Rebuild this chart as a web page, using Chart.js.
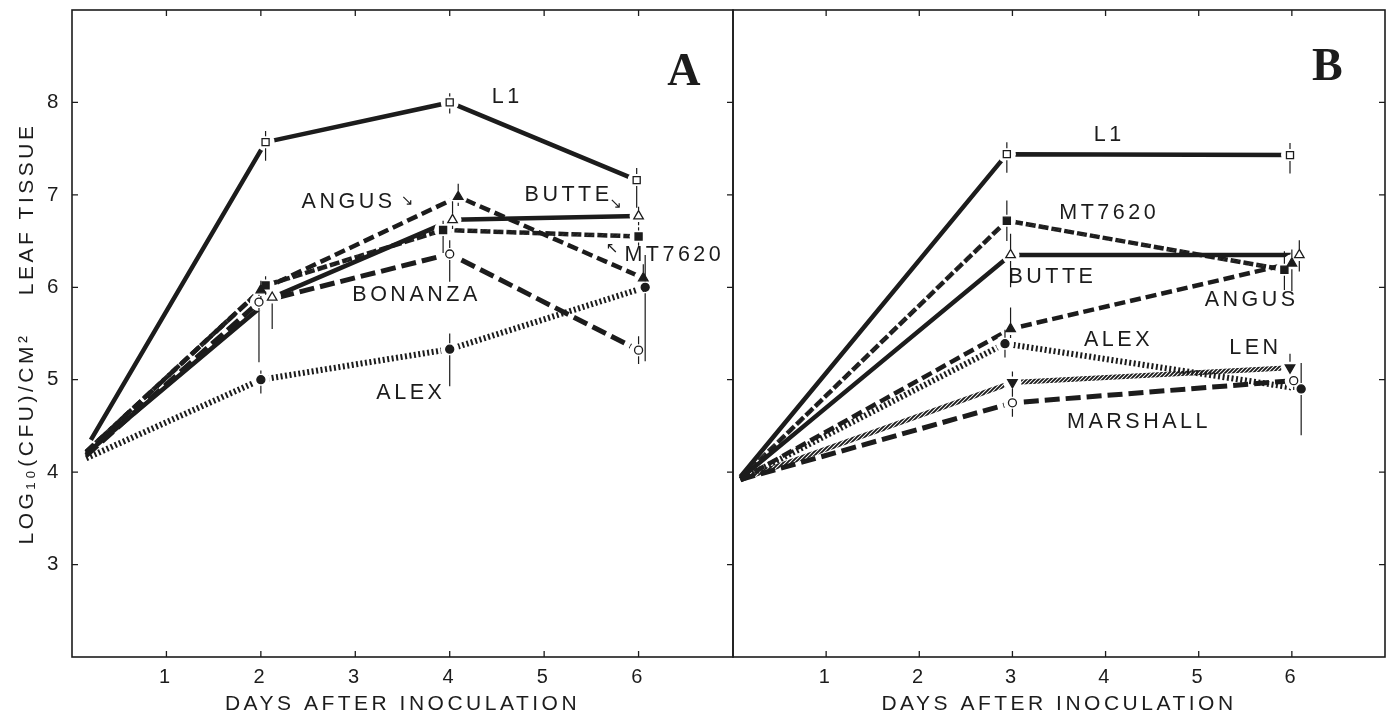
<!DOCTYPE html>
<html>
<head>
<meta charset="utf-8">
<script src="https://cdn.jsdelivr.net/npm/chart.js@4.4.0/dist/chart.umd.min.js"></script>
<style>
  html, body { margin: 0; padding: 0; background: #fff; }
  body { width: 1396px; height: 715px; position: relative; overflow: hidden; }
  #wrapA { position: absolute; left: 0; top: 0; width: 740px; height: 715px; }
  #wrapB { position: absolute; left: 726px; top: 0; width: 670px; height: 715px; }
</style>
</head>
<body>
<div id="wrapA"><canvas id="chartA"></canvas></div>
<div id="wrapB"><canvas id="chartB"></canvas></div>
<script>
// tick values on both panels
const dayTicks = [1, 2, 3, 4, 5, 6];
const logTicks = [3, 4, 5, 6, 7, 8];

// Panel A: days as plotted, log10(CFU)/cm2, error bar below / above
const cultivarsA = ["L1", "ANGUS", "BUTTE", "MT7620", "BONANZA", "ALEX"];
const daysA = [
  [0.2, 2.05, 4.0, 5.98],
  [0.15, 2.0, 4.09, 6.05],
  [0.15, 2.12, 4.03, 6.0],
  [0.15, 2.05, 3.93, 6.0],
  [0.15, 1.98, 4.0, 6.0],
  [0.15, 2.0, 4.0, 6.07]
];
const logA = [
  [4.35, 7.57, 8.0, 7.16],
  [4.22, 5.97, 6.98, 6.1],
  [4.2, 5.89, 6.73, 6.77],
  [4.22, 6.02, 6.62, 6.55],
  [4.18, 5.84, 6.36, 5.32],
  [4.15, 5.0, 5.33, 6.0]
];
const errLowA = [
  [0, 0.2, 0.12, 0.3],
  [0, 0.1, 0.1, 0.15],
  [0, 0.34, 0.1, 0.1],
  [0, 0.1, 0.25, 0.1],
  [0, 0.65, 0.3, 0.15],
  [0, 0.15, 0.4, 0.8]
];
const errHighA = [
  [0, 0.12, 0.1, 0.13],
  [0, 0.1, 0.14, 0.15],
  [0, 0.05, 0.2, 0.1],
  [0, 0.1, 0.1, 0.1],
  [0, 0.08, 0.15, 0.15],
  [0, 0.1, 0.17, 0.35]
];

// Panel B
const cultivarsB = ["L1", "MT7620", "BUTTE", "ANGUS", "ALEX", "LEN", "MARSHALL"];
const daysB = [
  [0.08, 2.94, 5.98],
  [0.08, 2.94, 5.92],
  [0.08, 2.98, 6.08],
  [0.08, 2.98, 6.0],
  [0.08, 2.92, 6.1],
  [0.08, 3.0, 5.98],
  [0.08, 3.0, 6.02]
];
const logB = [
  [3.95, 7.44, 7.43],
  [3.93, 6.72, 6.19],
  [3.93, 6.35, 6.35],
  [3.92, 5.55, 6.26],
  [3.92, 5.39, 4.9],
  [3.92, 4.97, 5.13],
  [3.92, 4.75, 4.99]
];
const errLowB = [
  [0, 0.2, 0.2],
  [0, 0.22, 0.22],
  [0, 0.35, 0.18],
  [0, 0.1, 0.3],
  [0, 0.15, 0.5],
  [0, 0.05, 0.05],
  [0, 0.15, 0.1]
];
const errHighB = [
  [0, 0.13, 0.13],
  [0, 0.22, 0.2],
  [0, 0.23, 0.16],
  [0, 0.23, 0.15],
  [0, 0.15, 0.28],
  [0, 0.12, 0.15],
  [0, 0.15, 0.05]
];

// text on the plots, placed in data units
const notesA = [
  { text: "L1", x: 4.59, y: 8.06 },
  { text: "ANGUS", x: 2.91, y: 6.92 },
  { text: "BUTTE", x: 5.24, y: 7.0 },
  { text: "MT7620", x: 6.36, y: 6.35 },
  { text: "BONANZA", x: 3.63, y: 5.92 },
  { text: "ALEX", x: 3.57, y: 4.86 }
];
const arrowsA = [
  { text: "↘", x: 3.55, y: 6.94 },
  { text: "↘", x: 5.76, y: 6.9 },
  { text: "↖", x: 5.72, y: 6.42 }
];
const notesB = [
  { text: "L1", x: 4.02, y: 7.65 },
  { text: "MT7620", x: 4.02, y: 6.8 },
  { text: "BUTTE", x: 3.41, y: 6.11 },
  { text: "ALEX", x: 4.12, y: 5.43 },
  { text: "ANGUS", x: 5.55, y: 5.86 },
  { text: "LEN", x: 5.59, y: 5.34 },
  { text: "MARSHALL", x: 4.34, y: 4.54 }
];

const ink = "#1c1c1c";
const sans = "'Liberation Sans', 'DejaVu Sans', sans-serif";

// diagonal hatch used as a stroke colour
function hatch(ctx, period, thick) {
  const c = document.createElement("canvas");
  c.width = period;
  c.height = period;
  const g = c.getContext("2d");
  g.strokeStyle = ink;
  g.lineWidth = thick;
  g.beginPath();
  for (let k = -1; k <= 3; k++) {
    g.moveTo(-period, (k + 1) * period);
    g.lineTo((k + 1) * period, -period);
  }
  g.stroke();
  return ctx.createPattern(c, "repeat");
}

const looks = {
  L1: { dash: [], width: 4.5, marker: "rect", size: 5, fill: false },
  BUTTE: { dash: [], width: 4.5, marker: "triangle", size: 5.5, fill: false },
  ANGUS: { dash: [11, 5], width: 4.5, marker: "triangle", size: 5.5, fill: true },
  BONANZA: { dash: [15, 6], width: 5, marker: "circle", size: 4, fill: false },
  MARSHALL: { dash: [15, 6], width: 5, marker: "circle", size: 4, fill: false },
  MT7620: { dash: [10, 3], width: 4.5, hatch: [5, 3.4], marker: "rect", size: 5, fill: true },
  ALEX: { dash: [2, 2.5], width: 6, marker: "circle", size: 4, fill: true },
  LEN: { dash: [], width: 5, hatch: [4, 1.9], marker: "triangle", size: 5.5, fill: true, rot: 180 }
};

function buildDatasets(ctx, names, days, vals) {
  const lines = [], marks = [];
  names.forEach((name, i) => {
    const lk = looks[name];
    const pts = days[i].map((d, j) => ({ x: d, y: vals[i][j] }));
    lines.push({
      label: name,
      data: pts,
      showLine: true,
      borderColor: lk.hatch ? hatch(ctx, lk.hatch[0], lk.hatch[1]) : ink,
      borderWidth: lk.width,
      borderDash: lk.dash,
      borderCapStyle: "butt",
      pointRadius: 0
    });
    marks.push({
      label: name + " points",
      data: pts,
      showLine: false,
      pointStyle: lk.marker,
      pointRotation: lk.rot || 0,
      pointRadius: pts.map((p, j) => (j === 0 ? 0 : lk.size)),
      pointBackgroundColor: lk.fill ? ink : "#fff",
      pointBorderColor: ink,
      pointBorderWidth: 1.3
    });
  });
  return lines.concat(marks);
}

function panelPlugin(nLines, days, vals, lo, hi, notes, arrows, letter, leftTicks) {
  return {
    id: "panel",
    beforeDraw(chart) {
      chart.ctx.letterSpacing = "3.5px";
    },
    // markers are held back and drawn after all the lines
    beforeDatasetDraw(chart, args) {
      if (args.index >= nLines) return false;
    },
    afterDatasetsDraw(chart) {
      const { ctx, chartArea: a } = chart;
      const x = chart.scales.x, y = chart.scales.y;
      ctx.save();
      ctx.letterSpacing = "0px";
      // white gap round each marker, as in the print
      ctx.fillStyle = "#fff";
      for (let k = nLines; k < chart.data.datasets.length; k++) {
        chart.getDatasetMeta(k).data.forEach((pt, j) => {
          if (j === 0) return;
          ctx.beginPath();
          ctx.arc(pt.x, pt.y, 9, 0, Math.PI * 2);
          ctx.fill();
        });
      }
      for (let k = nLines; k < chart.data.datasets.length; k++) {
        chart.getDatasetMeta(k).data.forEach(pt => pt.draw(ctx, a));
      }
      // error bars, with a gap round the marker
      ctx.strokeStyle = ink;
      ctx.lineWidth = 1.2;
      ctx.beginPath();
      days.forEach((row, i) => {
        row.forEach((d, j) => {
          if (j === 0) return;
          const px = x.getPixelForValue(d);
          const py = y.getPixelForValue(vals[i][j]);
          const top = y.getPixelForValue(vals[i][j] + hi[i][j]);
          const bot = y.getPixelForValue(vals[i][j] - lo[i][j]);
          if (py - top > 7) { ctx.moveTo(px, top); ctx.lineTo(px, py - 6); }
          if (bot - py > 7) { ctx.moveTo(px, py + 6); ctx.lineTo(px, bot); }
        });
      });
      ctx.stroke();
      ctx.restore();
    },
    afterDraw(chart) {
      const { ctx, chartArea: a } = chart;
      const x = chart.scales.x, y = chart.scales.y;
      ctx.save();
      ctx.letterSpacing = "0px";
      ctx.strokeStyle = ink;
      // frame and inward ticks
      ctx.lineWidth = 1.6;
      ctx.strokeRect(a.left, a.top, a.right - a.left, a.bottom - a.top);
      ctx.lineWidth = 1.3;
      ctx.beginPath();
      dayTicks.forEach(v => {
        const px = x.getPixelForValue(v);
        ctx.moveTo(px, a.bottom); ctx.lineTo(px, a.bottom - 6);
        ctx.moveTo(px, a.top); ctx.lineTo(px, a.top + 6);
      });
      logTicks.forEach(v => {
        const py = y.getPixelForValue(v);
        if (leftTicks) { ctx.moveTo(a.left, py); ctx.lineTo(a.left + 6, py); }
        ctx.moveTo(a.right, py); ctx.lineTo(a.right - 6, py);
      });
      ctx.stroke();
      // curve names
      ctx.fillStyle = ink;
      ctx.textAlign = "center";
      ctx.textBaseline = "middle";
      ctx.font = "21.5px " + sans;
      ctx.letterSpacing = "3.5px";
      notes.forEach(n => {
        ctx.fillText(n.text, x.getPixelForValue(n.x) + 1.75, y.getPixelForValue(n.y));
      });
      ctx.letterSpacing = "0px";
      ctx.font = "15px " + sans;
      arrows.forEach(n => {
        ctx.fillText(n.text, x.getPixelForValue(n.x), y.getPixelForValue(n.y));
      });
      ctx.font = "bold 46px 'Liberation Serif', 'DejaVu Serif', serif";
      ctx.fillText(letter.text, x.getPixelForValue(letter.x), y.getPixelForValue(letter.y));
      ctx.restore();
    }
  };
}

function makeChart(id, names, days, vals, lo, hi, notes, arrows, letter, isA) {
  const ctx = document.getElementById(id).getContext("2d");
  return new Chart(ctx, {
    type: "scatter",
    data: { datasets: buildDatasets(ctx, names, days, vals) },
    options: {
      responsive: true,
      maintainAspectRatio: false,
      animation: false,
      events: [],
      layout: { padding: isA ? { top: 10, right: 7, left: 0, bottom: 0 } : { top: 10, right: 11, left: 7, bottom: 0 } },
      plugins: { legend: { display: false }, tooltip: { enabled: false } },
      scales: {
        x: {
          type: "linear",
          min: 0,
          max: 7,
          afterBuildTicks: s => { s.ticks = dayTicks.map(v => ({ value: v })); },
          afterFit: s => { s.height = 58; s.paddingLeft = 0; s.paddingRight = 0; },
          grid: { display: false, drawTicks: false },
          border: { display: false },
          ticks: { color: ink, font: { family: sans, size: 20 }, padding: 8, maxRotation: 0 },
          title: {
            display: true,
            text: "DAYS AFTER INOCULATION",
            color: ink,
            font: { family: sans, size: 21, lineHeight: 1 },
            padding: { top: 0, bottom: 0 }
          }
        },
        y: {
          type: "linear",
          display: isA,
          min: 2,
          max: 9,
          afterBuildTicks: s => { s.ticks = logTicks.map(v => ({ value: v })); },
          afterFit: s => { s.width = isA ? 72 : 0; s.paddingTop = 0; s.paddingBottom = 0; },
          grid: { display: false, drawTicks: false },
          border: { display: false },
          ticks: { color: ink, font: { family: sans, size: 20.5 }, padding: 10 },
          title: {
            display: true,
            text: "LOG₁₀(CFU)/CM²    LEAF TISSUE",
            color: ink,
            font: { family: sans, size: 21, lineHeight: 1 },
            padding: { top: 17, bottom: 0 }
          }
        }
      }
    },
    plugins: [panelPlugin(names.length, days, vals, lo, hi, notes, arrows, letter, isA)]
  });
}

makeChart("chartA", cultivarsA, daysA, logA, errLowA, errHighA, notesA, arrowsA,
  { text: "A", x: 6.48, y: 8.32 }, true);
makeChart("chartB", cultivarsB, daysB, logB, errLowB, errHighB, notesB, [],
  { text: "B", x: 6.38, y: 8.37 }, false);
</script>
</body>
</html>
